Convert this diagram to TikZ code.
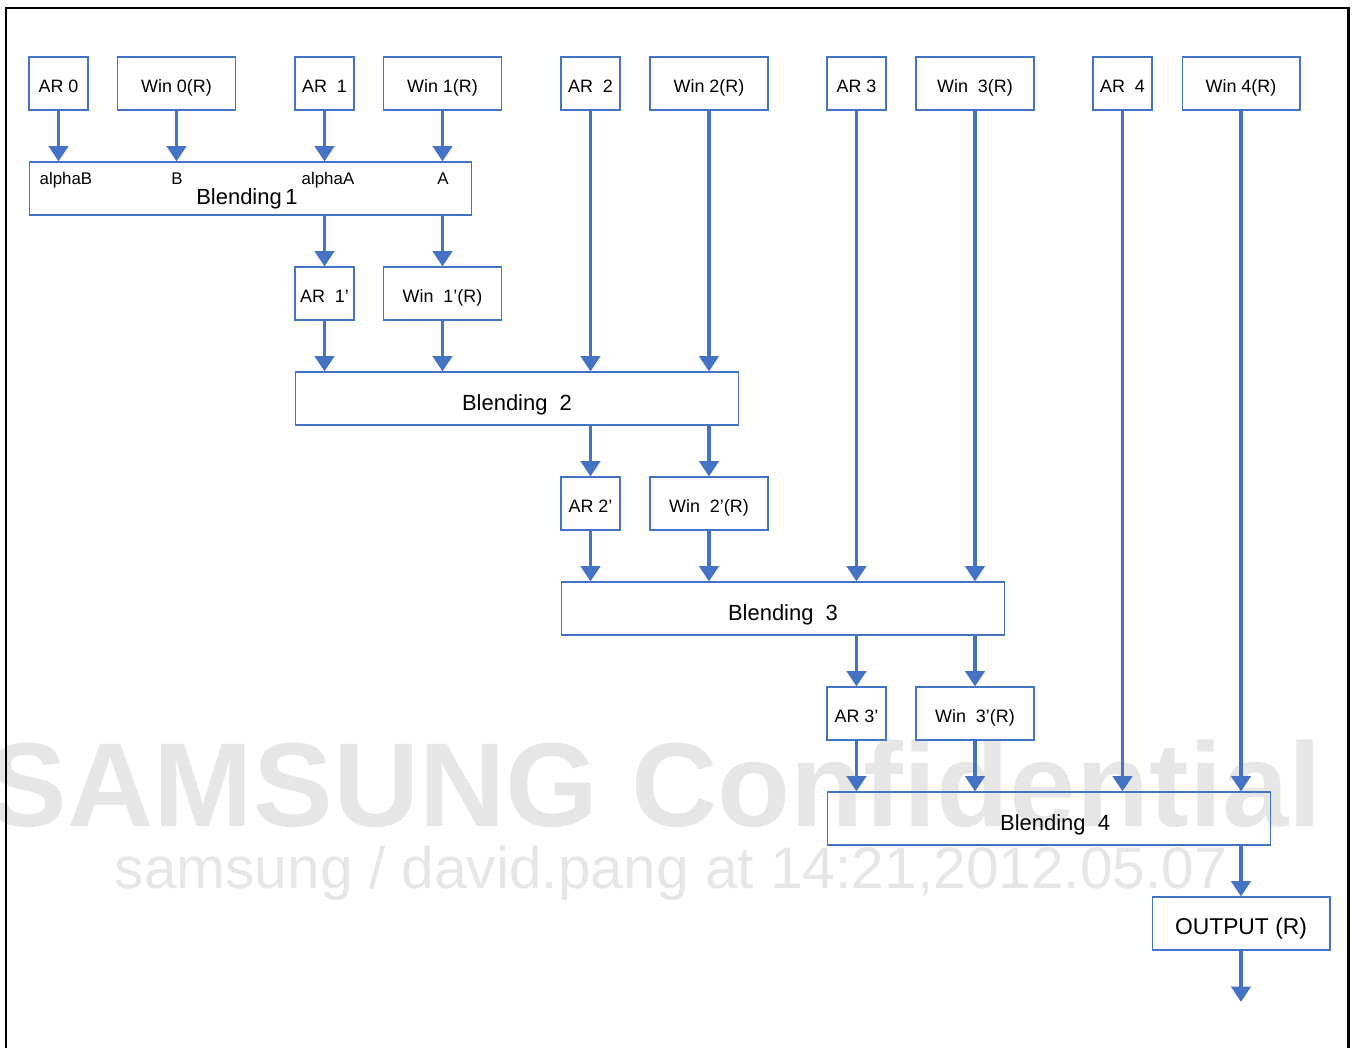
\documentclass[tikz,border=0pt]{standalone}
\usepackage{fontspec}
\setmainfont{Liberation Sans}
\usetikzlibrary{arrows.meta}
\definecolor{flowblue}{RGB}{68,114,196}
\definecolor{markgray}{RGB}{230,230,230}

\begin{document}
\begin{tikzpicture}[x=0.02cm,y=-0.02cm,
  blk/.style={draw=flowblue,line width=0.6pt,minimum height=1.06cm,inner sep=0pt,text height=13.25pt,text depth=2.55pt,font=\fontsize{10.2}{12}\selectfont},
  arbox/.style={blk,minimum width=1.18cm},
  winbox/.style={blk,minimum width=2.36cm},
  blendbox/.style={blk,minimum width=8.86cm,text height=16.9pt,text depth=2.8pt,font=\fontsize{12.5}{15}\selectfont},
  lbl/.style={anchor=base,inner sep=0pt,font=\fontsize{9.6}{11}\selectfont},
  flow/.style={draw=flowblue,line width=2.2pt,-{Triangle[width=10.8pt,length=8.7pt]}}]
  \useasboundingbox (0,0) rectangle (1355,1048);
  % watermark
  \node[anchor=base,text=markgray,font=\bfseries\fontsize{68}{70}\selectfont] (mark) at (655,826) {SAMSUNG Confidential};
  \node[anchor=base,text=markgray,font=\fontsize{33.4}{36}\selectfont] (markb) at (671,888) {samsung / david.pang at 14:21,2012.05.07};
  % frame
  \draw[line width=1.7pt] (6,1048) -- (6,8) -- (1348,8) -- (1348,1048);
  % inputs
  \node[arbox] (ar0) at (58.5,83.5) {AR 0};
  \node[winbox] (win0) at (176.5,83.5) {Win 0(R)};
  \node[arbox] (ar1) at (324.5,83.5) {AR\ \ 1};
  \node[winbox] (win1) at (442.5,83.5) {Win 1(R)};
  \node[arbox] (ar2) at (590.5,83.5) {AR\ \ 2};
  \node[winbox] (win2) at (709,83.5) {Win 2(R)};
  \node[arbox] (ar3) at (856.5,83.5) {AR 3};
  \node[winbox] (win3) at (975,83.5) {Win\ \ 3(R)};
  \node[arbox] (ar4) at (1122.5,83.5) {AR\ \ 4};
  \node[winbox] (win4) at (1241,83.5) {Win 4(R)};
  % blending 1
  \node[blendbox] (b1) at (250.5,188.5) {};
  \node[lbl] (inab) at (66,184) {alphaB};
  \node[lbl] (inb) at (177,184) {B};
  \node[lbl] (inaa) at (328,184) {alphaA};
  \node[lbl] (ina) at (443,184) {A};
  \node[anchor=base,inner sep=0pt,font=\fontsize{12.5}{15}\selectfont] (b1txt) at (247,204) {Blending\,1};
  \node[arbox] (ar1p) at (324.5,293.5) {AR\ \ 1'};
  \node[winbox] (win1p) at (442.5,293.5) {Win\ \ 1'(R)};
  % blending 2
  \node[blendbox] (b2) at (517,398.5) {Blending\ \ 2};
  \node[arbox] (ar2p) at (590.5,503.5) {AR\ 2'};
  \node[winbox] (win2p) at (709,503.5) {Win\ \ 2'(R)};
  % blending 3
  \node[blendbox] (b3) at (783,608.5) {Blending\ \ 3};
  \node[arbox] (ar3p) at (856.5,713.5) {AR 3'};
  \node[winbox] (win3p) at (975,713.5) {Win\ \ 3'(R)};
  % blending 4
  \node[blendbox] (b4) at (1049,818.5) {\ \ Blending\ \ 4};
  \node[blk,minimum width=3.56cm,text height=15.5pt,text depth=2.8pt,font=\fontsize{13}{15}\selectfont] (out) at (1241,923.5) {OUTPUT (R)};
  \coordinate (end) at (1241,1002);
  % arrows
  \draw[flow] (ar0) -- (ar0 |- b1.north);
  \draw[flow] (win0) -- (win0 |- b1.north);
  \draw[flow] (ar1) -- (ar1 |- b1.north);
  \draw[flow] (win1) -- (win1 |- b1.north);
  \draw[flow] (ar1 |- b1.south) -- (ar1p);
  \draw[flow] (win1 |- b1.south) -- (win1p);
  \draw[flow] (ar1p) -- (ar1p |- b2.north);
  \draw[flow] (win1p) -- (win1p |- b2.north);
  \draw[flow] (ar2) -- (ar2 |- b2.north);
  \draw[flow] (win2) -- (win2 |- b2.north);
  \draw[flow] (ar2p |- b2.south) -- (ar2p);
  \draw[flow] (win2p |- b2.south) -- (win2p);
  \draw[flow] (ar2p) -- (ar2p |- b3.north);
  \draw[flow] (win2p) -- (win2p |- b3.north);
  \draw[flow] (ar3) -- (ar3 |- b3.north);
  \draw[flow] (win3) -- (win3 |- b3.north);
  \draw[flow] (ar3p |- b3.south) -- (ar3p);
  \draw[flow] (win3p |- b3.south) -- (win3p);
  \draw[flow] (ar3p) -- (ar3p |- b4.north);
  \draw[flow] (win3p) -- (win3p |- b4.north);
  \draw[flow] (ar4) -- (ar4 |- b4.north);
  \draw[flow] (win4) -- (win4 |- b4.north);
  \draw[flow] (out |- b4.south) -- (out);
  \draw[flow] (out) -- (end);
\end{tikzpicture}
\end{document}
